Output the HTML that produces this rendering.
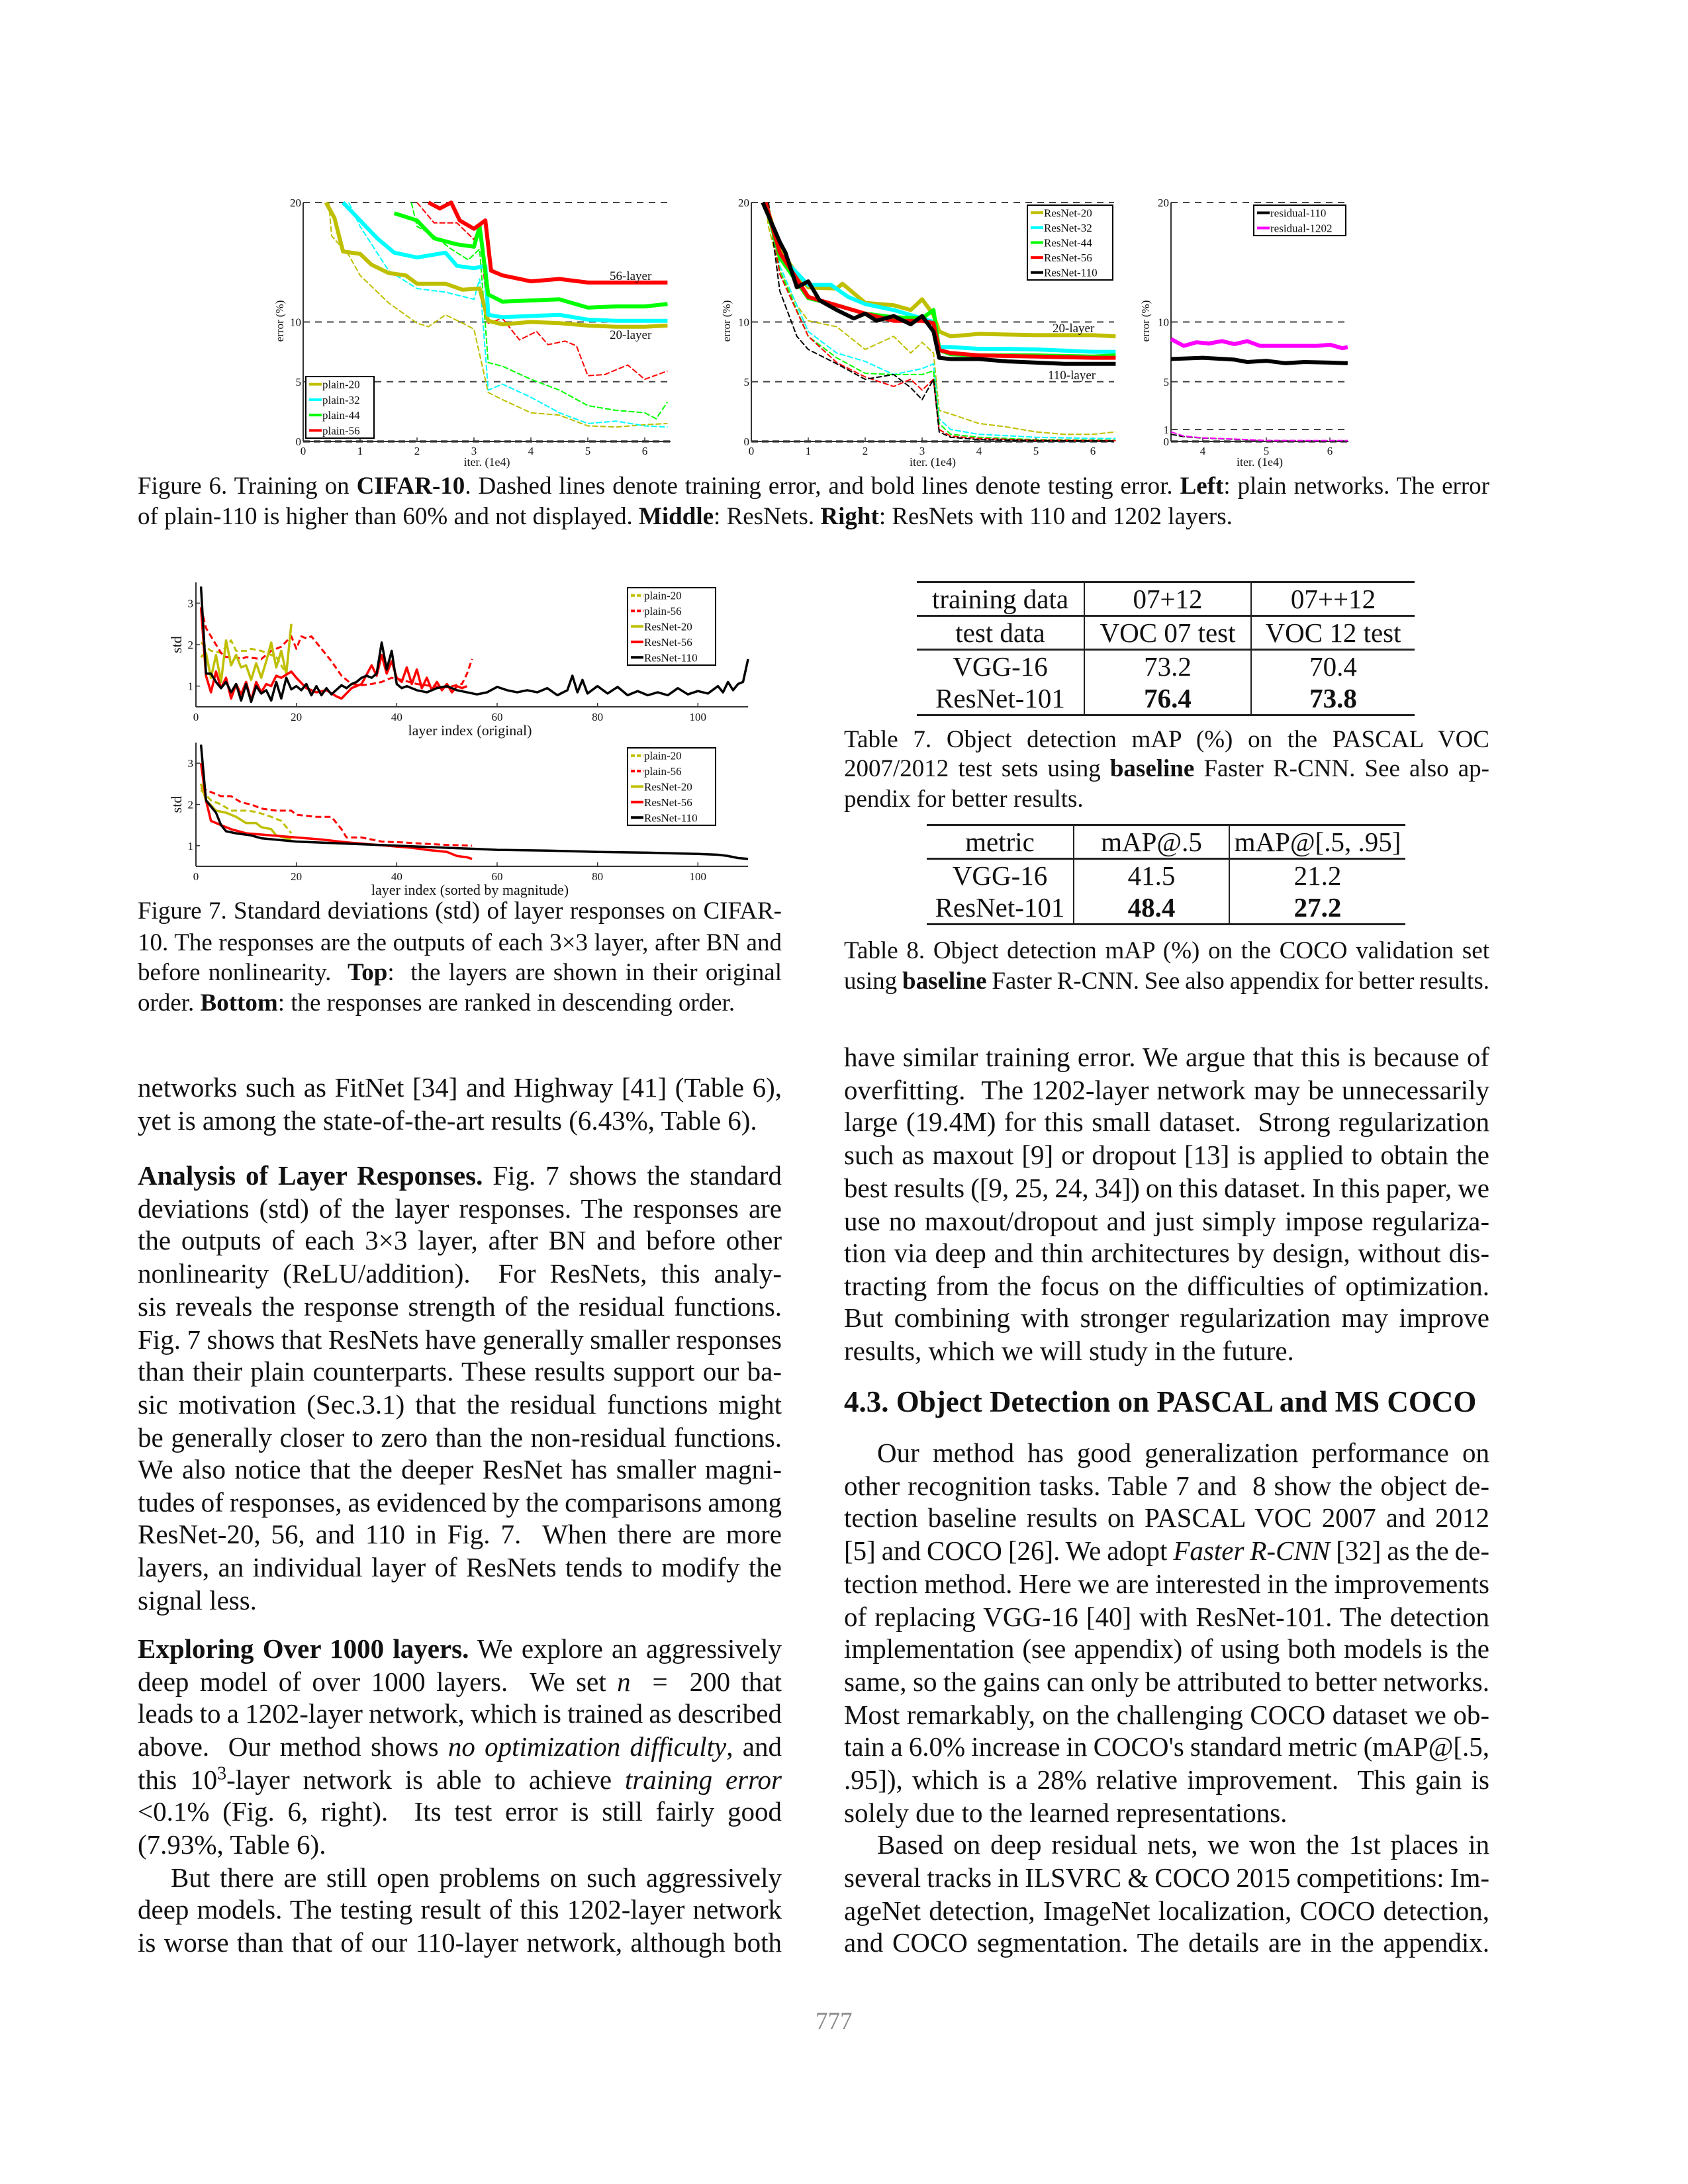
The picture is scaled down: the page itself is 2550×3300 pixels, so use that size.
<!DOCTYPE html>
<html><head><meta charset="utf-8">
<style>
html,body{margin:0;padding:0;background:#fff;}
#page{position:relative;width:2550px;height:3300px;overflow:hidden;background:#fff;font-family:"Liberation Serif","Times New Roman",serif;color:#111;}
.l{position:absolute;white-space:nowrap;font-size:41px;line-height:50px;height:50px;}
.c{font-size:37px;line-height:46px;height:46px;}
.j{white-space:nowrap;}
.L{left:208px;width:973px;}
.R{left:1275px;width:975px;}
.W{left:208px;width:2042px;}
.in{text-indent:50px;}
svg text{font-family:"Liberation Serif",serif;fill:#111;}
table{position:absolute;border-collapse:collapse;font-size:41px;font-family:"Liberation Serif",serif;}
td{text-align:center;padding:0;height:48px;line-height:48px;}
</style></head>
<body>
<div id="page">
<svg id="charts" width="2550" height="3300" viewBox="0 0 2550 3300" style="position:absolute;left:0;top:0;">
  <g id="f6"></g>
  <g id="f7"></g>
</svg>

<div class="l c j W" style="top:712px">Figure 6. Training on <b>CIFAR-10</b>. Dashed lines denote training error, and bold lines denote testing error. <b>Left</b>: plain networks. The error</div>
<div class="l c W" style="top:758px">of plain-110 is higher than 60% and not displayed. <b>Middle</b>: ResNets. <b>Right</b>: ResNets with 110 and 1202 layers.</div>

<div class="l c j L" style="top:1354px">Figure 7. Standard deviations (std) of layer responses on CIFAR-</div>
<div class="l c j L" style="top:1402px">10. The responses are the outputs of each 3×3 layer, after BN and</div>
<div class="l c j L" style="top:1447px">before nonlinearity. &nbsp;<b>Top</b>: &nbsp;the layers are shown in their original</div>
<div class="l c L" style="top:1493px">order. <b>Bottom</b>: the responses are ranked in descending order.</div>

<table style="left:1385px;top:878px;width:752px;">
<tr style="border-top:3px solid #222;border-bottom:3px solid #222;"><td style="width:252px;border-right:2px solid #222">training data</td><td style="width:250px;border-right:2px solid #222">07+12</td><td>07++12</td></tr>
<tr style="border-bottom:3px solid #222;"><td style="border-right:2px solid #222">test data</td><td style="border-right:2px solid #222">VOC 07 test</td><td>VOC 12 test</td></tr>
<tr><td style="border-right:2px solid #222">VGG-16</td><td style="border-right:2px solid #222">73.2</td><td>70.4</td></tr>
<tr style="border-bottom:3px solid #222;"><td style="border-right:2px solid #222">ResNet-101</td><td style="border-right:2px solid #222"><b>76.4</b></td><td><b>73.8</b></td></tr>
</table>
<div class="l c j R" style="top:1095px">Table 7. Object detection mAP (%) on the PASCAL VOC</div>
<div class="l c j R" style="top:1139px">2007/2012 test sets using <b>baseline</b> Faster R-CNN. See also ap-</div>
<div class="l c R" style="top:1185px">pendix for better results.</div>

<table style="left:1400px;top:1245px;width:723px;">
<tr style="border-top:3px solid #222;border-bottom:3px solid #222;"><td style="width:221px;border-right:2px solid #222">metric</td><td style="width:233px;border-right:2px solid #222">mAP@.5</td><td>mAP@[.5, .95]</td></tr>
<tr><td style="border-right:2px solid #222">VGG-16</td><td style="border-right:2px solid #222">41.5</td><td>21.2</td></tr>
<tr style="border-bottom:3px solid #222;"><td style="border-right:2px solid #222">ResNet-101</td><td style="border-right:2px solid #222"><b>48.4</b></td><td><b>27.2</b></td></tr>
</table>
<div class="l c j R" style="top:1414px">Table 8. Object detection mAP (%) on the COCO validation set</div>
<div class="l c j R" style="top:1460px">using <b>baseline</b> Faster R-CNN. See also appendix for better results.</div>

<div>
<div class="l j L" style="top:1618px">networks such as FitNet [34] and Highway [41] (Table 6),</div>
<div class="l L" style="top:1668px">yet is among the state-of-the-art results (6.43%, Table 6).</div>
<div class="l j L" style="top:1751px"><b>Analysis of Layer Responses.</b> Fig. 7 shows the standard</div>
<div class="l j L" style="top:1801px">deviations (std) of the layer responses. The responses are</div>
<div class="l j L" style="top:1849px">the outputs of each 3×3 layer, after BN and before other</div>
<div class="l j L" style="top:1899px">nonlinearity (ReLU/addition). &nbsp;For ResNets, this analy-</div>
<div class="l j L" style="top:1949px">sis reveals the response strength of the residual functions.</div>
<div class="l j L" style="top:1999px">Fig. 7 shows that ResNets have generally smaller responses</div>
<div class="l j L" style="top:2047px">than their plain counterparts. These results support our ba-</div>
<div class="l j L" style="top:2097px">sic motivation (Sec.3.1) that the residual functions might</div>
<div class="l j L" style="top:2147px">be generally closer to zero than the non-residual functions.</div>
<div class="l j L" style="top:2195px">We also notice that the deeper ResNet has smaller magni-</div>
<div class="l j L" style="top:2245px">tudes of responses, as evidenced by the comparisons among</div>
<div class="l j L" style="top:2293px">ResNet-20, 56, and 110 in Fig. 7. &nbsp;When there are more</div>
<div class="l j L" style="top:2343px">layers, an individual layer of ResNets tends to modify the</div>
<div class="l L" style="top:2393px">signal less.</div>
<div class="l j L" style="top:2466px"><b>Exploring Over 1000 layers.</b> We explore an aggressively</div>
<div class="l j L" style="top:2516px">deep model of over 1000 layers. &nbsp;We set <i>n</i> &nbsp;= &nbsp;200 that</div>
<div class="l j L" style="top:2564px">leads to a 1202-layer network, which is trained as described</div>
<div class="l j L" style="top:2614px">above. &nbsp;Our method shows <i>no optimization difficulty</i>, and</div>
<div class="l j L" style="top:2664px">this 10<sup style="font-size:28px;line-height:0">3</sup>-layer network is able to achieve <i>training error</i></div>
<div class="l j L" style="top:2712px">&lt;0.1% (Fig. 6, right). &nbsp;Its test error is still fairly good</div>
<div class="l L" style="top:2762px">(7.93%, Table 6).</div>
<div class="l j L in" style="top:2812px">But there are still open problems on such aggressively</div>
<div class="l j L" style="top:2860px">deep models. The testing result of this 1202-layer network</div>
<div class="l j L" style="top:2910px">is worse than that of our 110-layer network, although both</div>
</div>

<div>
<div class="l j R" style="top:1572px">have similar training error. We argue that this is because of</div>
<div class="l j R" style="top:1622px">overfitting. &nbsp;The 1202-layer network may be unnecessarily</div>
<div class="l j R" style="top:1670px">large (19.4M) for this small dataset. &nbsp;Strong regularization</div>
<div class="l j R" style="top:1720px">such as maxout [9] or dropout [13] is applied to obtain the</div>
<div class="l j R" style="top:1770px">best results ([9, 25, 24, 34]) on this dataset. In this paper, we</div>
<div class="l j R" style="top:1820px">use no maxout/dropout and just simply impose regulariza-</div>
<div class="l j R" style="top:1868px">tion via deep and thin architectures by design, without dis-</div>
<div class="l j R" style="top:1918px">tracting from the focus on the difficulties of optimization.</div>
<div class="l j R" style="top:1966px">But combining with stronger regularization may improve</div>
<div class="l R" style="top:2016px">results, which we will study in the future.</div>
<div class="l R" style="top:2093px;font-size:45px;font-weight:bold">4.3. Object Detection on PASCAL and MS COCO</div>
<div class="l j R in" style="top:2170px">Our method has good generalization performance on</div>
<div class="l j R" style="top:2220px">other recognition tasks. Table 7 and &nbsp;8 show the object de-</div>
<div class="l j R" style="top:2268px">tection baseline results on PASCAL VOC 2007 and 2012</div>
<div class="l j R" style="top:2318px">[5] and COCO [26]. We adopt <i>Faster R-CNN</i> [32] as the de-</div>
<div class="l j R" style="top:2368px">tection method. Here we are interested in the improvements</div>
<div class="l j R" style="top:2418px">of replacing VGG-16 [40] with ResNet-101. The detection</div>
<div class="l j R" style="top:2466px">implementation (see appendix) of using both models is the</div>
<div class="l j R" style="top:2516px">same, so the gains can only be attributed to better networks.</div>
<div class="l j R" style="top:2566px">Most remarkably, on the challenging COCO dataset we ob-</div>
<div class="l j R" style="top:2614px">tain a 6.0% increase in COCO's standard metric (mAP@[.5,</div>
<div class="l j R" style="top:2664px">.95]), which is a 28% relative improvement. &nbsp;This gain is</div>
<div class="l R" style="top:2714px">solely due to the learned representations.</div>
<div class="l j R in" style="top:2762px">Based on deep residual nets, we won the 1st places in</div>
<div class="l j R" style="top:2812px">several tracks in ILSVRC &amp; COCO 2015 competitions: Im-</div>
<div class="l j R" style="top:2862px">ageNet detection, ImageNet localization, COCO detection,</div>
<div class="l j R" style="top:2910px">and COCO segmentation. The details are in the appendix.</div>
</div>

<div class="l" style="top:3030px;left:1232px;color:#888;font-size:37px">777</div>
</div>

<script>
// ---------- Figure 6 data: [iter (1e4), error %] ----------
const plain20Test=[[0.4,20],[0.55,18.7],[0.7,15.9],[1.0,15.7],[1.2,14.8],[1.5,14.1],[1.8,13.9],[2.0,13.2],[2.5,13.2],[2.8,12.7],[3.1,12.8],[3.25,10.1],[3.5,9.8],[4.0,10.0],[4.5,9.9],[5.0,9.7],[5.5,9.6],[6.0,9.6],[6.4,9.7]];
const plain32Test=[[0.7,20],[1.0,18.5],[1.3,17],[1.6,15.8],[2.0,15.4],[2.5,15.8],[2.7,14.7],[3.0,14.5],[3.2,14.7],[3.25,10.6],[3.5,10.4],[4.0,10.5],[4.5,10.6],[5.0,10.2],[5.5,10.1],[6.4,10.1]];
const plain44Test=[[1.6,19.1],[2.0,18.5],[2.3,17],[2.7,16.5],[3.0,16.3],[3.1,18],[3.25,12.3],[3.5,11.7],[4.0,11.8],[4.5,11.9],[5.0,11.2],[5.5,11.3],[6.0,11.3],[6.4,11.5]];
const plain56Test=[[2.2,20],[2.4,19.5],[2.6,20],[2.75,18.5],[3.0,17.8],[3.2,18.5],[3.3,14.3],[3.5,13.9],[4.0,13.4],[4.5,13.6],[5.0,13.3],[5.5,13.3],[6.0,13.3],[6.4,13.3]];
const plain20Train=[[0.45,20],[0.5,17.2],[0.8,15.6],[1.0,13.9],[1.5,11.6],[2.0,9.9],[2.2,9.6],[2.5,10.6],[2.8,9.9],[3.0,9.4],[3.25,4.1],[3.5,3.5],[4.0,2.4],[4.5,2.2],[5.0,1.3],[5.5,1.2],[6.0,1.4],[6.4,1.5]];
const plain32Train=[[0.8,20],[1.0,18],[1.5,14.3],[2.0,12.8],[2.5,12.5],[3.0,11.9],[3.1,13.6],[3.25,4.3],[3.5,4.8],[4.0,3.7],[4.5,2.4],[5.0,1.5],[5.5,1.7],[6.0,1.3],[6.4,1.2]];
const plain44Train=[[1.9,20],[2.0,18],[2.3,17.2],[2.6,16.1],[2.9,15.2],[3.1,16.1],[3.25,6.6],[3.5,6.3],[4.0,5.2],[4.5,4.3],[5.0,3.0],[5.5,2.6],[6.0,2.4],[6.2,1.9],[6.4,3.3]];
const plain56Train=[[2.0,20],[2.3,18.3],[2.7,18.3],[3.0,16.9],[3.1,18.0],[3.25,9.9],[3.5,10.3],[3.8,8.5],[4.1,9.2],[4.3,8.1],[4.6,8.4],[4.8,8.0],[5.0,5.5],[5.3,5.6],[5.7,6.4],[6.0,5.2],[6.4,5.9]];

const res20Test=[[0.25,20],[0.5,16.1],[0.8,14],[1.0,12.9],[1.5,12.8],[1.6,13.2],[2.0,11.6],[2.5,11.4],[2.8,11.0],[3.0,11.9],[3.2,10.6],[3.3,9.2],[3.5,8.8],[4.0,9.0],[4.5,8.95],[5.0,8.9],[5.5,8.9],[6.0,8.9],[6.4,8.8]];
const res32Test=[[0.25,20],[0.5,15.6],[1.0,13.1],[1.4,13.1],[1.7,12.1],[2.0,11.5],[2.5,11.0],[3.0,10.3],[3.2,10.0],[3.3,7.9],[3.5,7.9],[4.0,7.75],[4.5,7.75],[5.0,7.7],[5.5,7.6],[6.0,7.5],[6.4,7.5]];
const res44Test=[[0.25,20],[0.5,15.4],[1.0,12.0],[1.5,11.4],[2.0,10.7],[2.5,10.4],[3.0,10.3],[3.2,11.0],[3.3,7.65],[3.5,7.3],[4.0,7.2],[5.0,7.2],[6.0,7.1],[6.4,7.2]];
const res56Test=[[0.25,20],[0.5,15.8],[0.8,13.6],[1.0,12.1],[1.5,11.4],[2.0,10.7],[2.5,10.1],[3.0,10.1],[3.2,9.9],[3.3,7.65],[3.5,7.4],[4.0,7.2],[5.0,7.1],[6.0,7.0],[6.4,7.0]];
const res110Test=[[0.2,20],[0.5,16.7],[0.6,15.8],[0.8,12.9],[1.0,13.4],[1.2,11.8],[1.5,11.0],[1.8,10.3],[2.0,10.7],[2.2,10.1],[2.5,10.5],[2.8,9.8],[3.0,10.5],[3.2,9.2],[3.3,7.0],[3.5,6.9],[4.0,6.9],[4.5,6.7],[5.0,6.6],[5.5,6.5],[6.0,6.5],[6.4,6.5]];
const res20Train=[[0.25,20],[0.3,18],[0.5,14.3],[0.8,11.4],[1.0,10.1],[1.5,9.6],[2.0,7.7],[2.5,8.8],[2.8,7.4],[3.0,8.3],[3.2,7.4],[3.3,2.6],[3.5,2.3],[4.0,1.5],[4.5,1.2],[5.0,0.8],[5.5,0.6],[6.0,0.6],[6.4,0.8]];
const res32Train=[[0.3,20],[0.5,14.7],[1.0,9.2],[1.5,7.4],[2.0,6.7],[2.5,5.6],[3.0,6.1],[3.2,6.5],[3.3,1.9],[3.5,1.0],[4.0,0.6],[5.0,0.35],[6.0,0.25],[6.4,0.25]];
const res44Train=[[0.3,20],[0.5,14.3],[1.0,8.8],[1.5,7.0],[2.0,5.7],[2.5,5.6],[3.0,5.6],[3.2,5.9],[3.3,1.5],[3.5,0.6],[4.0,0.35],[5.0,0.15],[6.4,0.1]];
const res56Train=[[0.3,20],[0.5,14.0],[1.0,8.8],[1.5,6.6],[2.0,5.4],[2.5,4.6],[2.8,5.2],[3.0,4.3],[3.2,5.2],[3.3,1.0],[3.5,0.45],[4.0,0.25],[5.0,0.1],[6.4,0.07]];
const res110Train=[[0.3,20],[0.5,12.6],[0.8,8.8],[1.0,7.7],[1.5,6.5],[2.0,5.2],[2.5,5.6],[2.8,4.5],[3.0,3.5],[3.2,5.2],[3.3,0.8],[3.5,0.35],[4.0,0.15],[5.0,0.07],[6.4,0.04]];

const r110Test=[[3.5,6.9],[4.0,7.0],[4.5,6.85],[4.7,6.65],[5.0,6.75],[5.3,6.55],[5.6,6.65],[6.0,6.6],[6.28,6.55]];
const r1202Test=[[3.5,8.57],[3.7,8.0],[3.9,8.3],[4.1,8.2],[4.3,8.4],[4.5,8.15],[4.7,8.4],[4.9,8.0],[5.2,8.0],[5.5,8.0],[5.8,8.0],[6.0,8.1],[6.2,7.8],[6.28,7.9]];
const r110Train=[[3.5,0.6],[3.7,0.4],[4.0,0.28],[5.0,0.07],[6.28,0.04]];
const r1202Train=[[3.5,0.8],[3.7,0.45],[4.0,0.3],[4.5,0.2],[5.0,0.08],[6.28,0.08]];

const f6XTicksMain=[0,1,2,3,4,5,6];
const f6XTicksRight=[4,5,6];
const f6YTicks=[0,5,10,20];
const f6YTicksRight=[0,1,5,10,20];

// ---------- Figure 7 data: [layer index, std] ----------
const f7Plain20=[[1,2.05],[3,1.85],[5,1.8],[7,2.1],[8,1.85],[10,1.85],[11,1.9],[13,1.85],[15,1.75],[16,1.7],[18,1.3]];
const f7Res20=[[1,1.7],[2,1.8],[3,1.2],[4,1.75],[5,1.1],[6,2.1],[7,1.5],[8,1.75],[9,1.45],[10,1.5],[11,1.15],[12,1.55],[13,1.2],[14,1.6],[15,2.05],[16,1.45],[17,1.85],[18,1.3],[19,2.5]];
const f7Plain56=[[1,2.9],[2,2.4],[3,2.2],[5,1.8],[6,1.7],[8,1.7],[9,1.65],[10,1.7],[13,1.65],[15,1.85],[17,1.95],[19,2.2],[20,1.9],[21,2.2],[22,2.15],[23,2.2],[25,1.9],[27,1.6],[29,1.25],[31,1.05],[33,1.02],[35,1.05],[37,1.1],[39,1.2],[41,1.15],[44,1.05],[47,1.0],[50,0.97],[53,1.05],[54,1.3],[55,1.65]];
const f7Res56=[[1,2.9],[2,1.25],[3,0.85],[4,1.35],[5,0.95],[6,1.2],[7,0.7],[8,1.05],[9,0.8],[10,1.1],[11,0.65],[12,1.1],[13,0.85],[14,1.05],[15,1.0],[16,1.25],[17,1.2],[19,1.35],[20,1.2],[22,0.95],[24,0.85],[26,0.9],[28,0.75],[29,0.7],[31,0.95],[33,1.05],[35,1.5],[36,1.25],[37,1.75],[38,1.3],[39,1.6],[40,1.2],[41,1.1],[42,1.45],[43,1.05],[44,1.4],[45,0.95],[46,1.2],[47,0.9],[48,1.1],[49,0.9],[50,1.05],[51,0.85],[52,1.0],[53,0.95],[54,1.0]];
const f7Res110=[[1,3.4],[2,1.3],[3,1.3],[4,1.1],[5,0.95],[6,1.1],[7,0.85],[8,1.05],[9,0.65],[10,1.05],[11,0.62],[12,1.0],[13,0.82],[14,0.9],[15,0.65],[16,1.1],[17,0.7],[18,1.2],[19,0.92],[20,1.0],[21,0.9],[22,1.05],[23,0.78],[24,1.0],[25,0.78],[26,0.95],[27,0.8],[29,1.02],[30,0.95],[31,1.05],[32,1.1],[33,1.2],[34,1.25],[35,1.2],[36,1.3],[37,2.05],[38,1.4],[39,1.85],[40,1.05],[41,0.95],[42,1.0],[44,0.9],[46,0.85],[48,0.95],[50,1.0],[52,0.9],[54,0.85],[56,0.8],[58,0.85],[60,0.98],[62,0.9],[64,0.85],[66,0.9],[68,0.85],[70,0.95],[72,0.78],[74,0.9],[75,1.25],[76,0.85],[77,1.15],[78,0.82],[80,1.0],[82,0.82],[84,0.98],[86,0.78],[88,0.88],[90,0.78],[92,0.85],[94,0.78],[96,0.95],[98,0.8],[100,0.88],[102,0.82],[104,1.0],[105,0.85],[106,1.1],[107,0.9],[108,1.05],[109,1.1],[110,1.65]];
const f7SortPlain20=[[1,2.35],[3,2.1],[5,2.0],[7,1.85],[10,1.85],[12,1.82],[15,1.7],[17,1.6],[19,1.3]];
const f7SortRes20=[[1,2.5],[2,2.1],[4,1.85],[6,1.8],[8,1.7],[10,1.55],[12,1.55],[13,1.45],[15,1.4],[16,1.25],[19,1.15]];
const f7SortPlain56=[[1,2.4],[3,2.3],[5,2.2],[7,2.2],[9,2.05],[11,2.0],[13,1.9],[16,1.85],[19,1.85],[20,1.75],[24,1.7],[27,1.7],[29,1.4],[30,1.2],[33,1.2],[37,1.1],[41,1.08],[45,1.05],[50,1.02],[55,1.0]];
const f7SortRes56=[[1,3.0],[2,2.1],[3,1.6],[5,1.5],[7,1.4],[10,1.3],[15,1.25],[20,1.2],[25,1.15],[30,1.08],[35,1.03],[38,1.0],[40,0.98],[43,0.95],[46,0.9],[50,0.85],[52,0.75],[54,0.72],[55,0.68]];
const f7SortRes110=[[1,3.45],[2,2.1],[4,1.8],[5,1.5],[6,1.35],[8,1.3],[11,1.25],[13,1.18],[20,1.1],[30,1.05],[40,1.0],[50,0.95],[56,0.92],[60,0.9],[70,0.88],[80,0.85],[90,0.83],[100,0.8],[104,0.78],[106,0.75],[108,0.7],[110,0.68]];
const f7XTicks=[0,20,40,60,80,100];
const f7YTicks=[1,2,3];

const NS='http://www.w3.org/2000/svg';
const C={y:'#BFBF00',c:'#00FFFF',g:'#00FF00',r:'#FF0000',k:'#000000',m:'#FF00FF'};

function mk(parent,tag,attrs){
  const el=document.createElementNS(NS,tag);
  for(const k in attrs) el.setAttribute(k,attrs[k]);
  parent.appendChild(el);
  return el;
}
function line(parent,pts,X,Y,color,w,dash,name){
  const el=mk(parent,'polyline',{points:pts.map(p=>X(p[0]).toFixed(1)+','+Y(p[1]).toFixed(1)).join(' '),fill:'none',stroke:color,'stroke-width':w,'stroke-linejoin':'round'});
  if(dash) el.setAttribute('stroke-dasharray',dash);
  
  
  return el;
}
function txt(parent,x,y,s,size,anchor,name,rot){
  const el=mk(parent,'text',{x:x,y:y,'font-size':size,'text-anchor':anchor||'start'});
  if(rot) el.setAttribute('transform','rotate(-90 '+x+' '+y+')');
  el.textContent=s;
  
  
  return el;
}
function seg(parent,x1,y1,x2,y2,color,w,dash,name){
  const el=mk(parent,'line',{x1:x1,y1:y1,x2:x2,y2:y2,stroke:color,'stroke-width':w});
  if(dash) el.setAttribute('stroke-dasharray',dash);
  
  
  return el;
}
function legend(parent,x,y,w,h,entries,size,name){
  const g=mk(parent,'g',{});
  
  
  const r=mk(g,'rect',{x:x,y:y,width:w,height:h,fill:'#fff',stroke:'#000','stroke-width':2});
  
  
  const step=h/entries.length;
  entries.forEach((e,i)=>{
    const cy=y+step*(i+0.5);
    seg(g,x+5,cy,x+24,cy,e[1],4,e[2],'legend-swatch');
    txt(g,x+25,cy+6,e[0],17,'start','legend-entry');
  });
}

// ---------- Figure 6 ----------
const f6=document.getElementById('f6');
const Y6=v=>667-18.05*v;
const TOP6=306,BOT6=667;
function f6Axes(x0,x1,X,xt,yt,ylabX,name){
  const g=mk(f6,'g',{});
  
  
  yt.forEach(v=>{ if(v>0) seg(g,x0,Y6(v),x1,Y6(v),'#444',2,'10 8','gridline'); });
  seg(g,x0,BOT6,x1,BOT6,'#777',4,'10 6','zero-gridline');
  seg(g,x0,TOP6,x0,BOT6,'#333',2,null,'y-axis');
  seg(g,x0,BOT6,x1,BOT6,'#333',2,null,'x-axis');
  yt.forEach(v=>txt(g,x0-3,Y6(v)+6,String(v),17,'end','y-tick-label'));
  xt.forEach(v=>{ seg(g,X(v),BOT6,X(v),BOT6-6,'#333',1.5,null,'x-tick'); txt(g,X(v),BOT6+20,String(v),17,'middle','x-tick-label'); });
  txt(g,(x0+x1)/2,BOT6+37,'iter. (1e4)',18,'middle','x-axis-title');
  txt(g,ylabX,485,'error (%)',17,'middle','y-axis-title',true);
  return g;
}
const XL=v=>458+86*v;
const gL=f6Axes(458,1013,XL,f6XTicksMain,f6YTicks,428,'plain-nets-panel');
line(gL,plain20Train,XL,Y6,C.y,2,'9 3','plain-20-train');
line(gL,plain32Train,XL,Y6,C.c,2,'9 3','plain-32-train');
line(gL,plain44Train,XL,Y6,C.g,2,'9 3','plain-44-train');
line(gL,plain56Train,XL,Y6,C.r,2,'9 3','plain-56-train');
line(gL,plain20Test,XL,Y6,C.y,6,null,'plain-20-test');
line(gL,plain32Test,XL,Y6,C.c,6,null,'plain-32-test');
line(gL,plain44Test,XL,Y6,C.g,6,null,'plain-44-test');
line(gL,plain56Test,XL,Y6,C.r,6,null,'plain-56-test');
txt(gL,921,423,'56-layer',19,'start','annotation-56-layer');
txt(gL,921,512,'20-layer',19,'start','annotation-20-layer');
legend(gL,462,569,103,93,[['plain-20',C.y],['plain-32',C.c],['plain-44',C.g],['plain-56',C.r]],17,'plain-legend');
const XM=v=>1135+86*v;
const gM=f6Axes(1135,1683,XM,f6XTicksMain,f6YTicks,1103,'resnets-panel');
line(gM,res20Train,XM,Y6,C.y,2,'9 3','resnet-20-train');
line(gM,res32Train,XM,Y6,C.c,2,'9 3','resnet-32-train');
line(gM,res44Train,XM,Y6,C.g,2,'9 3','resnet-44-train');
line(gM,res56Train,XM,Y6,C.r,2,'9 3','resnet-56-train');
line(gM,res110Train,XM,Y6,C.k,2,'9 3','resnet-110-train');
line(gM,res20Test,XM,Y6,C.y,6,null,'resnet-20-test');
line(gM,res32Test,XM,Y6,C.c,6,null,'resnet-32-test');
line(gM,res44Test,XM,Y6,C.g,6,null,'resnet-44-test');
line(gM,res56Test,XM,Y6,C.r,6,null,'resnet-56-test');
line(gM,res110Test,XM,Y6,C.k,6,null,'resnet-110-test');
txt(gM,1590,502,'20-layer',19,'start','annotation-20-layer');
txt(gM,1583,573,'110-layer',19,'start','annotation-110-layer');
legend(gM,1552,310,129,113,[['ResNet-20',C.y],['ResNet-32',C.c],['ResNet-44',C.g],['ResNet-56',C.r],['ResNet-110',C.k]],17,'resnet-legend');
const XR=v=>1817+96*(v-4);
const gR=f6Axes(1769,2037,XR,f6XTicksRight,f6YTicksRight,1736,'deep-resnets-panel');
line(gR,r110Train,XR,Y6,C.k,2,'9 3','residual-110-train');
line(gR,r1202Train,XR,Y6,C.m,2,'9 3','residual-1202-train');
line(gR,r110Test,XR,Y6,C.k,6,null,'residual-110-test');
line(gR,r1202Test,XR,Y6,C.m,6,null,'residual-1202-test');
legend(gR,1894,310,139,46,[['residual-110',C.k],['residual-1202',C.m]],17,'deep-legend');

// ---------- Figure 7 ----------
const f7=document.getElementById('f7');
const X7=v=>296+7.583*v;
function f7Panel(Y,yTop,yBot,xlab,name){
  const g=mk(f7,'g',{});
  
  
  seg(g,296,yTop,296,yBot,'#333',2,null,'y-axis');
  seg(g,296,yBot,X7(110),yBot,'#333',2,null,'x-axis');
  f7YTicks.forEach(v=>{ seg(g,296,Y(v),302,Y(v),'#333',1.5,null,'y-tick'); txt(g,292,Y(v)+6,String(v),17,'end','y-tick-label'); });
  f7XTicks.forEach(v=>{ seg(g,X7(v),yBot,X7(v),yBot-6,'#333',1.5,null,'x-tick'); txt(g,X7(v),yBot+21,String(v),17,'middle','x-tick-label'); });
  txt(g,710,yBot+43,xlab,22,'middle','x-axis-title');
  txt(g,274,(yTop+yBot)/2,'std',22,'middle','y-axis-title',true);
  return g;
}
const YT=v=>1068-62.67*(v-0.5);
const gT=f7Panel(YT,880,1068,'layer index (original)','std-original-panel');
line(gT,f7Plain20,X7,YT,C.y,3,'9 5','plain-20-std');
line(gT,f7Plain56,X7,YT,C.r,3,'9 5','plain-56-std');
line(gT,f7Res20,X7,YT,C.y,3.5,null,'resnet-20-std');
line(gT,f7Res56,X7,YT,C.r,3.5,null,'resnet-56-std');
line(gT,f7Res110,X7,YT,C.k,3.5,null,'resnet-110-std');
const lg7=[['plain-20',C.y,'6 3'],['plain-56',C.r,'6 3'],['ResNet-20',C.y],['ResNet-56',C.r],['ResNet-110',C.k]];
legend(gT,948,888,133,117,lg7,17,'std-original-legend');
const YB=v=>1309-62.33*(v-0.5);
const gB=f7Panel(YB,1122,1309,'layer index (sorted by magnitude)','std-sorted-panel');
line(gB,f7SortPlain20,X7,YB,C.y,3,'9 5','plain-20-sorted');
line(gB,f7SortPlain56,X7,YB,C.r,3,'9 5','plain-56-sorted');
line(gB,f7SortRes20,X7,YB,C.y,3.5,null,'resnet-20-sorted');
line(gB,f7SortRes56,X7,YB,C.r,3.5,null,'resnet-56-sorted');
line(gB,f7SortRes110,X7,YB,C.k,3.5,null,'resnet-110-sorted');
legend(gB,948,1130,133,117,lg7,17,'std-sorted-legend');

// ---------- fit justified lines to their column width ----------
document.querySelectorAll('.j').forEach(el=>{
  const target=el.clientWidth;
  const span=document.createElement('span');
  while(el.firstChild) span.appendChild(el.firstChild);
  el.appendChild(span);
  const w=span.getBoundingClientRect().width;
  const spaces=(span.textContent.match(/[ \u00a0]/g)||[]).length - (el.classList.contains('in')?0:0);
  const indent=el.classList.contains('in')?50:0;
  let diff=target-indent-w;
  if(diff<-spaces*4){
    const chars=span.textContent.length;
    const ls=(diff+spaces*4)/chars;
    span.style.letterSpacing=ls.toFixed(3)+'px';
    diff=-spaces*4;
  }
  if(spaces>0) span.style.wordSpacing=(diff/spaces).toFixed(3)+'px';
});
</script>
</body></html>
